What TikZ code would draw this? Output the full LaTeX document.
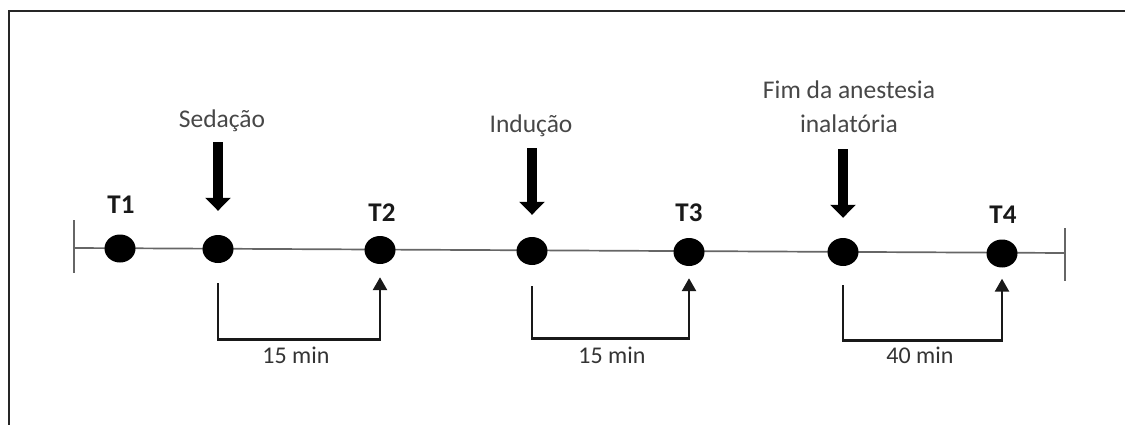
\documentclass[tikz,border=0pt]{standalone}
\usepackage{fontspec}
\setmainfont{Carlito}
\usetikzlibrary{arrows.meta,shapes.geometric}
\begin{document}
\begin{tikzpicture}[x=1pt,y=-1pt,
 dot/.style={ellipse,fill=black,minimum width=31pt,minimum height=28pt,inner sep=0pt},
 tlabel/.style={font=\fontsize{27}{30}\selectfont\bfseries,text=black!90,inner sep=0pt,anchor=base},
 evlabel/.style={font=\fontsize{25.5}{34}\selectfont,text=black!72,inner sep=0pt,align=center,anchor=base},
 minlabel/.style={font=\fontsize{24}{28}\selectfont,text=black!80,inner sep=0pt,anchor=base},
 bigarrow/.style={line width=10pt,black,-{Triangle[width=25pt,length=13pt]}},
 bracket/.style={line width=2.6pt,black!90,-{Triangle[width=14pt,length=13pt]}},
 axisline/.style={line width=1.7pt,black!60},
 frameline/.style={line width=2.4pt,black!85}]
\useasboundingbox (0,0) rectangle (1125,425);
% frame
\draw[frameline] (9,440) -- (9,11) -- (1135,11);
% axis
\coordinate (lend) at (74,248);
\coordinate (rend) at (1065,253);
\draw[axisline] (lend) -- (rend);
\draw[axisline] ([yshift=28pt]lend) -- ([yshift=-25pt]lend);
\draw[axisline] ([yshift=25pt]rend) -- ([yshift=-28pt]rend);
% dots
\node[dot] (d1) at (120,248.5) {};
\node[dot] (d2) at (218,249) {};
\node[dot] (d3) at (380,250) {};
\node[dot] (d4) at (532,251) {};
\node[dot] (d5) at (689,252) {};
\node[dot] (d6) at (843,252) {};
\node[dot] (d7) at (1002,253.5) {};
% time labels
\node[tlabel] (t1) at (121,213) {T1};
\node[tlabel] (t2) at (382,221) {T2};
\node[tlabel] (t3) at (689,221) {T3};
\node[tlabel] (t4) at (1003,223) {T4};
% event labels
\node[evlabel] (sed) at (222,128) {Sedação};
\node[evlabel] (ind) at (531,133) {Indução};
\node[evlabel] (fim) at (849,133) {Fim da anestesia\\inalatória};
% big arrows
\draw[bigarrow] ([yshift=-10pt]d2.north |- sed.south) -- ([yshift=24pt]d2.north);
\draw[bigarrow] ([yshift=-11pt]d4.north |- ind.south) -- ([yshift=22pt]d4.north);
\draw[bigarrow] ([yshift=-16pt]d6.north |- fim.south) -- ([yshift=20pt]d6.north);
% brackets
\draw[bracket] ([yshift=-20pt]d2.south) -- ++(0,56) -| ([yshift=-13pt]d3.south);
\draw[bracket] ([yshift=-21pt]d4.south) -- ++(0,52) -| ([yshift=-12pt]d5.south);
\draw[bracket] ([yshift=-19pt]d6.south) -- ++(0,55) -| ([yshift=-11pt]d7.south);
% durations
\node[minlabel] (m1) at (296,363) {15 min};
\node[minlabel] (m2) at (612,363) {15 min};
\node[minlabel] (m3) at (920,363) {40 min};
\end{tikzpicture}
\end{document}
